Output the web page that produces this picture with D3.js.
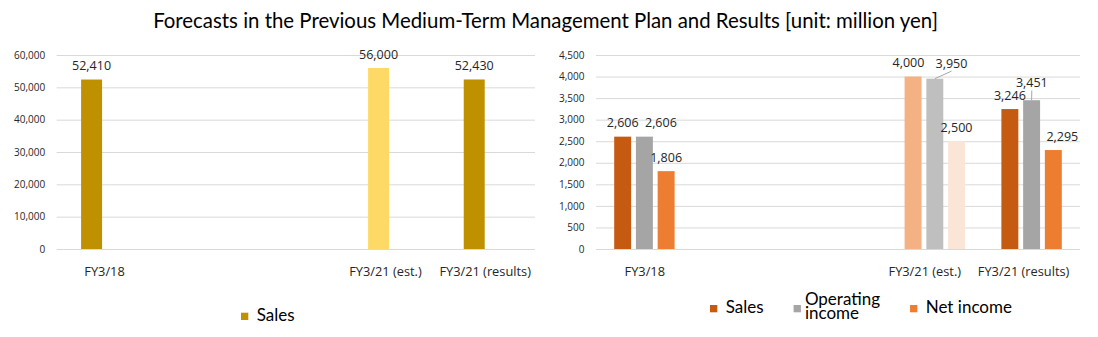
<!DOCTYPE html>
<html>
<head>
<meta charset="utf-8">
<script src="https://cdn.jsdelivr.net/npm/d3@7"></script>
<style>
  body { margin: 0; background: #fff; }
  svg { display: block; }
</style>
</head>
<body>
<svg id="chart" width="1098" height="337"></svg>
<script>
// ---- data ----
const categories = ["FY3/18", "FY3/19", "FY3/20", "FY3/21 (est.)", "FY3/21 (results)"];
const tickLabels = ["FY3/18", "", "", "FY3/21 (est.)", "FY3/21 (results)"];
const isEstimate = [false, false, false, true, false];

const consolidatedSales = [52410, null, null, 56000, 52430];
const leftTicks = [0, 10000, 20000, 30000, 40000, 50000, 60000];

const rightSeries = ["Sales", "Operating income", "Net income"];
const segmentSales = [2606, null, null, 4000, 3246];
const operatingIncome = [2606, null, null, 3950, 3451];
const netIncome = [1806, null, null, 2500, 2295];
const rightTicks = [0, 500, 1000, 1500, 2000, 2500, 3000, 3500, 4000, 4500];

const titleText = "Forecasts in the Previous Medium-Term Management Plan and Results [unit: million yen]";

// ---- styles ----
const leftColors = { actual: "#BF9000", est: "#FFD966" };
const rightColors = {
  "Sales": { actual: "#C55A11", est: "#F4B183" },
  "Operating income": { actual: "#A5A5A5", est: "#BFBFBF" },
  "Net income": { actual: "#ED7D31", est: "#FBE5D6" }
};
const gridColor = "#D9D9D9";
const textColor = "#262626";
const numFont = "'Open Sans', 'Noto Sans', sans-serif";
const capFont = "Lato, 'Open Sans', sans-serif";

const svg = d3.select("#chart");

// title, sized to its line width
const title = svg.append("text")
  .attr("x", 545.5).attr("y", 28.3)
  .attr("text-anchor", "middle")
  .style("font-family", capFont)
  .style("font-size", "18px")
  .attr("fill", "#000")
  .text(titleText);
const tw = title.node().getComputedTextLength();
title.style("font-size", (18 * 785 / tw).toFixed(2) + "px");

// hand-placed data label offsets (Excel-style nudges), keyed by panel|category|series
const labelNudge = {
  "R|0|Operating income": { dx: 16.5, dy: 0 },
  "R|3|Sales": { dx: -4.6, dy: 0 },
  "R|3|Operating income": { dx: 16.7, dy: -1.7, leader: true },
  "R|4|Operating income": { dx: 0.2, dy: -3.9, leader: true },
  "R|4|Net income": { dx: 9, dy: 0 }
};
// category label offsets to keep labels apart and inside the plot
const catShift = {
  L: [0, 0, 0, -6, -2],
  R: [0.4, 0, 0, -10, -8]
};

function drawPanel(cfg) {
  const g = svg.append("g");
  const idx = d3.range(categories.length);

  const x0 = d3.scaleBand().domain(idx).range([cfg.left, cfg.right]);
  const gw = x0.bandwidth() * cfg.groupFrac;
  const x1 = d3.scaleBand().domain(cfg.slots).range([-gw / 2, gw / 2]).paddingInner(cfg.innerPad);
  const y = d3.scaleLinear().domain([0, d3.max(cfg.ticks)]).range([249, 55]);

  // gridlines + value axis
  const axis = g.append("g")
    .attr("transform", `translate(${cfg.left},0)`)
    .call(d3.axisLeft(y)
      .tickValues(cfg.ticks)
      .tickFormat(d3.format(","))
      .tickSize(-(cfg.right - cfg.left))
      .tickPadding(11.5));
  axis.select(".domain").remove();
  axis.selectAll(".tick line").attr("stroke", gridColor).attr("stroke-width", 1);
  axis.selectAll(".tick text")
    .attr("fill", textColor)
    .style("font-family", numFont)
    .style("font-size", "10px");

  // bars
  const points = [];
  cfg.series.forEach((s) => {
    s.values.forEach((v, i) => {
      if (v == null) return;
      points.push({ key: s.name, i, v, color: s.color(i) });
    });
  });

  g.selectAll("rect.bar").data(points).join("rect")
    .attr("class", "bar")
    .attr("x", d => x0(d.i) + x0.bandwidth() / 2 + x1(d.key))
    .attr("width", x1.bandwidth())
    .attr("y", d => y(d.v))
    .attr("height", d => y(0) - y(d.v))
    .attr("fill", d => d.color);

  // data labels
  const fmt = d3.format(",");
  points.forEach(d => {
    const cx = x0(d.i) + x0.bandwidth() / 2 + x1(d.key) + x1.bandwidth() / 2;
    const top = y(d.v);
    const n = labelNudge[`${cfg.id}|${d.i}|${d.key}`] || { dx: 0, dy: 0 };
    const lx = cx + n.dx;
    const ly = top - 9.4 + n.dy;
    if (n.leader) {
      g.append("line")
        .attr("x1", cx).attr("y1", top)
        .attr("x2", lx).attr("y2", ly + 3.5)
        .attr("stroke", "#A6A6A6").attr("stroke-width", 1);
    }
    g.append("text")
      .attr("x", lx).attr("y", ly)
      .attr("text-anchor", "middle")
      .attr("fill", textColor)
      .style("font-family", numFont)
      .style("font-size", "12.5px")
      .text(fmt(d.v));
  });

  // category labels
  g.selectAll("text.cat").data(idx).join("text")
    .attr("class", "cat")
    .attr("x", i => x0(i) + x0.bandwidth() / 2 + catShift[cfg.id][i])
    .attr("y", 276.3)
    .attr("text-anchor", "middle")
    .attr("fill", textColor)
    .style("font-family", numFont)
    .style("font-size", "12.8px")
    .text(i => tickLabels[i]);
}

drawPanel({
  id: "L",
  left: 56.7, right: 535,
  groupFrac: 0.49, innerPad: 0.19,
  slots: ["Sales", "(spare)"],
  ticks: leftTicks,
  series: [{
    name: "Sales",
    values: consolidatedSales,
    color: i => isEstimate[i] ? leftColors.est : leftColors.actual
  }]
});

drawPanel({
  id: "R",
  left: 596, right: 1080,
  groupFrac: 0.624, innerPad: 0.22,
  slots: rightSeries,
  ticks: rightTicks,
  series: [
    { name: "Sales", values: segmentSales },
    { name: "Operating income", values: operatingIncome },
    { name: "Net income", values: netIncome }
  ].map(s => ({ ...s, color: i => isEstimate[i] ? rightColors[s.name].est : rightColors[s.name].actual }))
});

// legends
function legendItem(x, yBase, color, lines) {
  const g = svg.append("g");
  const sqY = lines.length > 1 ? yBase - 8.3 : yBase - 8.3;
  g.append("rect").attr("x", x).attr("y", sqY).attr("width", 7.3).attr("height", 7.3).attr("fill", color);
  const t = g.append("text")
    .attr("x", x + (lines.length > 1 ? 11.3 : 15.7))
    .attr("y", lines.length > 1 ? yBase - 8 : yBase)
    .attr("fill", "#000")
    .style("font-family", capFont)
    .style("font-size", "17px");
  lines.forEach((ln, k) => {
    t.append("tspan").attr("x", x + (lines.length > 1 ? 11.3 : 15.7)).attr("dy", k === 0 ? 0 : 14).text(ln);
  });
  let w = 0;
  t.selectAll("tspan").each(function () { w = Math.max(w, this.getComputedTextLength()); });
  return x + (lines.length > 1 ? 11.3 : 15.7) + w;
}

legendItem(241, 321, leftColors.actual, ["Sales"]);

let lx = 710;
const rightLegend = [
  { name: "Sales", lines: ["Sales"] },
  { name: "Operating income", lines: ["Operating", "income"] },
  { name: "Net income", lines: ["Net income"] }
];
rightLegend.forEach(item => {
  const end = legendItem(lx, 313.3, rightColors[item.name].actual, item.lines);
  lx = end + 30;
});
</script>
</body>
</html>
